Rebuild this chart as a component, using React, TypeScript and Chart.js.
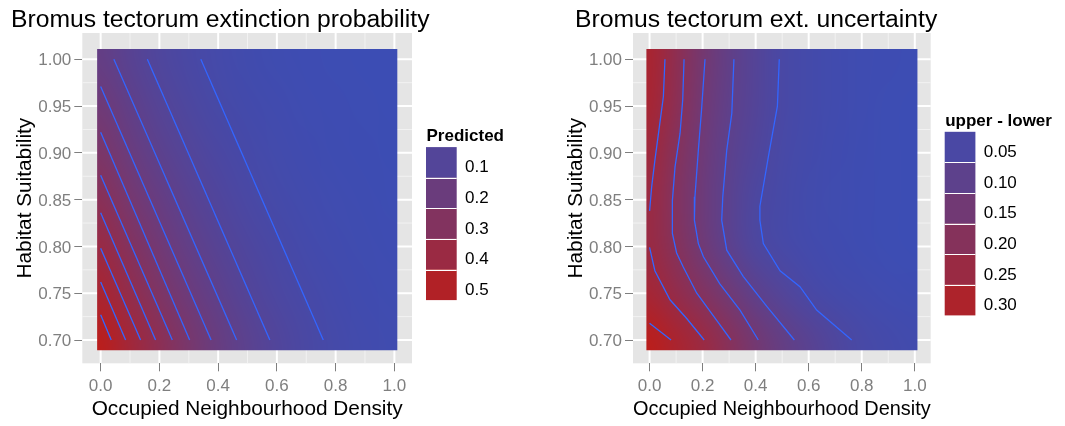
import React, { useEffect, useRef } from 'react';
import { Chart, registerables } from 'chart.js';

Chart.register(...registerables);

const FONT = '"Liberation Sans", Arial, Helvetica, sans-serif';
Chart.defaults.font.family = FONT;

// Evaluation grid of the fitted surfaces
const densityValues = [0, 0.1, 0.2, 0.3, 0.4, 0.5, 0.6, 0.7, 0.8, 0.9, 1.0];
const suitabilityValues = [0.7, 0.75, 0.8, 0.85, 0.9, 0.95, 1.0];

// Predicted extinction probability, one row per suitability value (bottom to top)
const predictedRows = [
  [0.536, 0.436, 0.340, 0.256, 0.186, 0.133, 0.093, 0.064, 0.043, 0.029, 0.020],
  [0.465, 0.367, 0.279, 0.205, 0.147, 0.103, 0.071, 0.049, 0.033, 0.022, 0.015],
  [0.396, 0.304, 0.226, 0.163, 0.115, 0.080, 0.055, 0.037, 0.025, 0.017, 0.011],
  [0.330, 0.247, 0.180, 0.127, 0.089, 0.061, 0.042, 0.028, 0.019, 0.013, 0.009],
  [0.270, 0.198, 0.141, 0.099, 0.068, 0.047, 0.032, 0.021, 0.014, 0.010, 0.006],
  [0.218, 0.157, 0.110, 0.076, 0.052, 0.035, 0.024, 0.016, 0.011, 0.007, 0.005],
  [0.173, 0.123, 0.085, 0.059, 0.040, 0.027, 0.018, 0.012, 0.008, 0.005, 0.004],
];

// Width of the interval (upper - lower), same layout
const uncertaintyRows = [
  [0.332, 0.293, 0.253, 0.204, 0.155, 0.117, 0.088, 0.064, 0.046, 0.036, 0.030],
  [0.280, 0.235, 0.191, 0.147, 0.102, 0.073, 0.048, 0.037, 0.030, 0.025, 0.022],
  [0.250, 0.200, 0.145, 0.095, 0.059, 0.043, 0.033, 0.027, 0.022, 0.019, 0.017],
  [0.253, 0.191, 0.137, 0.092, 0.057, 0.042, 0.032, 0.026, 0.021, 0.018, 0.016],
  [0.265, 0.200, 0.141, 0.097, 0.067, 0.045, 0.034, 0.027, 0.022, 0.019, 0.017],
  [0.285, 0.216, 0.149, 0.104, 0.074, 0.048, 0.036, 0.028, 0.023, 0.019, 0.017],
  [0.290, 0.222, 0.157, 0.109, 0.076, 0.048, 0.036, 0.028, 0.023, 0.020, 0.018],
];

// Contour paths [density, suitability], levels 0.50 down to 0.05
const predictedContours: number[][][] = [
  [[0, 0.727], [0.036, 0.7]],
  [[0, 0.762], [0.085, 0.7]],
  [[0, 0.798], [0.136, 0.7]],
  [[0, 0.836], [0.187, 0.7]],
  [[0, 0.876], [0.244, 0.7]],
  [[0, 0.922], [0.303, 0.7]],
  [[0, 0.971], [0.376, 0.7]],
  [[0.045, 1.0], [0.463, 0.7]],
  [[0.159, 1.0], [0.576, 0.7]],
  [[0.341, 1.0], [0.758, 0.7]],
];

// Contour paths, levels 0.30 down to 0.05
const uncertaintyContours: number[][][] = [
  [[0, 0.718], [0.081, 0.7]],
  [[0.058, 1.0], [0.052, 0.96], [0.037, 0.928], [0.02, 0.892], [0.008, 0.864], [0, 0.838]],
  [[0, 0.799], [0.02, 0.774], [0.077, 0.743], [0.14, 0.723], [0.206, 0.7]],
  [[0.13, 1.0], [0.125, 0.957], [0.115, 0.921], [0.096, 0.885], [0.086, 0.849], [0.086, 0.814],
   [0.102, 0.793], [0.127, 0.778], [0.178, 0.75], [0.253, 0.721], [0.307, 0.7]],
  [[0.209, 1.0], [0.196, 0.946], [0.184, 0.903], [0.171, 0.853], [0.169, 0.828], [0.184, 0.803],
   [0.203, 0.789], [0.265, 0.76], [0.341, 0.732], [0.41, 0.7]],
  [[0.318, 1.0], [0.31, 0.942], [0.291, 0.903], [0.276, 0.853], [0.272, 0.828], [0.291, 0.796],
   [0.353, 0.768], [0.442, 0.736], [0.546, 0.7]],
  [[0.489, 1.0], [0.482, 0.95], [0.448, 0.896], [0.416, 0.843], [0.416, 0.828], [0.429, 0.803],
   [0.492, 0.774], [0.567, 0.757], [0.63, 0.732], [0.762, 0.7]],
];

const xTicks = [0, 0.2, 0.4, 0.6, 0.8, 1.0];
const yTicks = [0.7, 0.75, 0.8, 0.85, 0.9, 0.95, 1.0];
const xMinorTicks = [0.1, 0.3, 0.5, 0.7, 0.9];
const yMinorTicks = [0.725, 0.775, 0.825, 0.875, 0.925, 0.975];

const predictedBreaks = [0.1, 0.2, 0.3, 0.4, 0.5];
const predictedBreakLabels = ['0.1', '0.2', '0.3', '0.4', '0.5'];
const uncertaintyBreaks = [0.05, 0.1, 0.15, 0.2, 0.25, 0.3];
const uncertaintyBreakLabels = ['0.05', '0.10', '0.15', '0.20', '0.25', '0.30'];

const LOW_RGB = [60, 77, 180];
const HIGH_RGB = [186, 30, 28];

// linear ramp from the low colour to the high colour over the data range
function makeRamp(rows: number[][]) {
  const flat = rows.flat();
  const lo = Math.min(...flat), hi = Math.max(...flat);
  return (v: number) => {
    const t = Math.min(1, Math.max(0, (v - lo) / (hi - lo)));
    return [0, 1, 2].map((k) => Math.round(LOW_RGB[k] + (HIGH_RGB[k] - LOW_RGB[k]) * t));
  };
}

type PanelSpec = {
  title: string;
  rows: number[][];
  contours: number[][][];
  breaks: number[];
  breakLabels: string[];
  legendTitle: string;
  padLeft: number;
  yAxisWidth: number;
  yTitlePad: number;
  legendWidth: number;
};

// panel background with major/minor grid
function panelPlugin() {
  return {
    id: 'panelGrid',
    beforeDraw(chart: any) {
      const { ctx, chartArea: a, scales } = chart;
      const xs = scales.x, ys = scales.y;
      ctx.save();
      ctx.fillStyle = '#E5E5E5';
      ctx.fillRect(a.left, a.top, a.right - a.left, a.bottom - a.top);
      const vline = (v: number, w: number, c: string) => {
        const p = xs.getPixelForValue(v);
        ctx.strokeStyle = c; ctx.lineWidth = w;
        ctx.beginPath(); ctx.moveTo(p, a.top); ctx.lineTo(p, a.bottom); ctx.stroke();
      };
      const hline = (v: number, w: number, c: string) => {
        const p = ys.getPixelForValue(v);
        ctx.strokeStyle = c; ctx.lineWidth = w;
        ctx.beginPath(); ctx.moveTo(a.left, p); ctx.lineTo(a.right, p); ctx.stroke();
      };
      xMinorTicks.forEach((v) => vline(v, 1, '#F2F2F2'));
      yMinorTicks.forEach((v) => hline(v, 1, '#F2F2F2'));
      xTicks.forEach((v) => vline(v, 2, '#FFFFFF'));
      yTicks.forEach((v) => hline(v, 2, '#FFFFFF'));
      ctx.restore();
    },
  };
}

// filled tiles of the surface, smoothed between grid cells
function tilePlugin(spec: PanelSpec) {
  const ramp = makeRamp(spec.rows);
  return {
    id: 'surfaceTiles',
    beforeDatasetsDraw(chart: any) {
      const { ctx, scales } = chart;
      const xs = scales.x, ys = scales.y;
      const nx = densityValues.length, ny = suitabilityValues.length;
      const off = document.createElement('canvas');
      off.width = nx; off.height = ny;
      const octx = off.getContext('2d')!;
      const img = octx.createImageData(nx, ny);
      for (let r = 0; r < ny; r++) {
        const row = spec.rows[ny - 1 - r];
        for (let i = 0; i < nx; i++) {
          const c = ramp(row[i]);
          const k = (r * nx + i) * 4;
          img.data[k] = c[0]; img.data[k + 1] = c[1]; img.data[k + 2] = c[2]; img.data[k + 3] = 255;
        }
      }
      octx.putImageData(img, 0, 0);
      const dx = densityValues[1] - densityValues[0];
      const dy = suitabilityValues[1] - suitabilityValues[0];
      const l = xs.getPixelForValue(densityValues[0] - dx / 2);
      const rr = xs.getPixelForValue(densityValues[nx - 1] + dx / 2);
      const t = ys.getPixelForValue(suitabilityValues[ny - 1] + dy / 2);
      const b = ys.getPixelForValue(suitabilityValues[0] - dy / 2);
      const cl = xs.getPixelForValue(-0.012), cr = xs.getPixelForValue(1.01);
      const ct = ys.getPixelForValue(1.011), cb = ys.getPixelForValue(0.689);
      ctx.save();
      ctx.beginPath();
      ctx.rect(cl, ct, cr - cl, cb - ct);
      ctx.clip();
      ctx.imageSmoothingEnabled = true;
      ctx.imageSmoothingQuality = 'high';
      ctx.drawImage(off, l, t, rr - l, b - t);
      ctx.restore();
    },
  };
}

// discrete colour legend to the right of the panel
function legendPlugin(spec: PanelSpec) {
  const ramp = makeRamp(spec.rows);
  return {
    id: 'fillLegend',
    afterDraw(chart: any) {
      const { ctx, chartArea: a } = chart;
      const kx = a.right + 14;
      const kw = 30.7, kh = 30.6;
      const n = spec.breaks.length;
      const top = 223.6 - (n * kh) / 2;
      ctx.save();
      ctx.fillStyle = '#000';
      ctx.textBaseline = 'alphabetic';
      ctx.textAlign = 'left';
      ctx.font = `bold 17px ${FONT}`;
      ctx.fillText(spec.legendTitle, kx + 0.5, top - 6.2);
      ctx.font = `17px ${FONT}`;
      spec.breaks.forEach((v, i) => {
        const c = ramp(v);
        ctx.fillStyle = `rgb(${c[0]},${c[1]},${c[2]})`;
        ctx.fillRect(kx, top + i * kh, kw, kh);
      });
      ctx.strokeStyle = '#FFFFFF';
      ctx.lineWidth = 1;
      for (let i = 1; i < n; i++) {
        const y = Math.round(top + i * kh) + 0.5;
        ctx.beginPath(); ctx.moveTo(kx, y); ctx.lineTo(kx + kw, y); ctx.stroke();
      }
      ctx.fillStyle = '#000';
      spec.breakLabels.forEach((lab, i) => {
        ctx.fillText(lab, kx + kw + 8.3, top + i * kh + kh / 2 + 10);
      });
      ctx.restore();
    },
  };
}

function buildConfig(spec: PanelSpec): any {
  const datasets = spec.contours.map((path) => ({
    data: path.map((p) => ({ x: p[0], y: p[1] })),
    showLine: true,
    borderColor: '#3366FF',
    borderWidth: 1.3,
    pointRadius: 0,
    pointHoverRadius: 0,
    fill: false,
    tension: 0,
  }));
  const tickFont = { family: FONT, size: 17, lineHeight: 1.2 };
  const axisTitleFont = { family: FONT, size: 20.8, lineHeight: 1.2 };
  return {
    type: 'scatter',
    data: { datasets },
    plugins: [panelPlugin(), tilePlugin(spec), legendPlugin(spec)],
    options: {
      responsive: false,
      animation: false,
      events: [],
      layout: { padding: { left: spec.padLeft, right: 0, top: 0, bottom: 0 } },
      plugins: {
        legend: { display: false },
        tooltip: { enabled: false },
        title: {
          display: true,
          text: spec.title,
          align: 'start',
          color: '#000',
          font: { family: FONT, size: 24.7, weight: 'normal', lineHeight: 1 },
          padding: { top: 7.6, bottom: 0.7 },
        },
      },
      scales: {
        x: {
          type: 'linear',
          min: -0.0625,
          max: 1.06,
          afterBuildTicks: (s: any) => { s.ticks = xTicks.map((v) => ({ value: v })); },
          afterFit: (s: any) => { s.height = 62.7; },
          grid: { drawOnChartArea: false, drawTicks: true, tickLength: 8, tickColor: '#7F7F7F', tickWidth: 1 },
          border: { display: false },
          ticks: {
            color: '#7F7F7F', font: tickFont, padding: 5.3, maxRotation: 0, minRotation: 0, autoSkip: false,
            callback: (v: any) => Number(v).toFixed(1),
          },
          title: {
            display: true, text: 'Occupied Neighbourhood Density', color: '#000',
            font: axisTitleFont, padding: { top: 0, bottom: 4 },
          },
        },
        y: {
          type: 'linear',
          min: 0.6751,
          max: 1.0281,
          afterBuildTicks: (s: any) => { s.ticks = yTicks.map((v) => ({ value: v })); },
          afterFit: (s: any) => { s.width = spec.yAxisWidth; },
          grid: { drawOnChartArea: false, drawTicks: true, tickLength: 8, tickColor: '#7F7F7F', tickWidth: 1 },
          border: { display: false },
          ticks: {
            color: '#7F7F7F', font: tickFont, padding: 3, labelOffset: 1.5, autoSkip: false,
            callback: (v: any) => Number(v).toFixed(2),
          },
          title: {
            display: true, text: 'Habitat Suitability', color: '#000',
            font: axisTitleFont, padding: { top: spec.yTitlePad, bottom: 0 },
          },
        },
        legendSpace: {
          type: 'linear',
          position: 'right',
          display: true,
          min: 0,
          max: 1,
          grid: { display: false },
          border: { display: false },
          ticks: { display: false },
          afterFit: (s: any) => { s.width = spec.legendWidth; },
        },
      },
    },
  };
}

const predictedSpec: PanelSpec = {
  title: 'Bromus tectorum extinction probability',
  rows: predictedRows,
  contours: predictedContours,
  breaks: predictedBreaks,
  breakLabels: predictedBreakLabels,
  legendTitle: 'Predicted',
  padLeft: 11,
  yAxisWidth: 71.3,
  yTitlePad: 1.6,
  legendWidth: 118,
};

const uncertaintySpec: PanelSpec = {
  title: 'Bromus tectorum ext. uncertainty',
  rows: uncertaintyRows,
  contours: uncertaintyContours,
  breaks: uncertaintyBreaks,
  breakLabels: uncertaintyBreakLabels,
  legendTitle: 'upper - lower',
  padLeft: 45,
  yAxisWidth: 58,
  yTitlePad: -11.4,
  legendWidth: 134.3,
};

function SurfacePanel({ spec, left, width }: { spec: PanelSpec; left: number; width: number }) {
  const ref = useRef<HTMLCanvasElement>(null);
  useEffect(() => {
    if (!ref.current) return;
    const chart = new Chart(ref.current, buildConfig(spec));
    return () => chart.destroy();
  }, [spec]);
  return (
    <canvas
      ref={ref}
      width={width}
      height={426}
      style={{ position: 'absolute', left, top: 0, width, height: 426 }}
    />
  );
}

export default function App() {
  return (
    <div style={{ position: 'fixed', left: 0, top: 0, width: 1065, height: 426, background: '#FFFFFF' }}>
      <SurfacePanel spec={predictedSpec} left={0} width={530} />
      <SurfacePanel spec={uncertaintySpec} left={530} width={535} />
    </div>
  );
}
